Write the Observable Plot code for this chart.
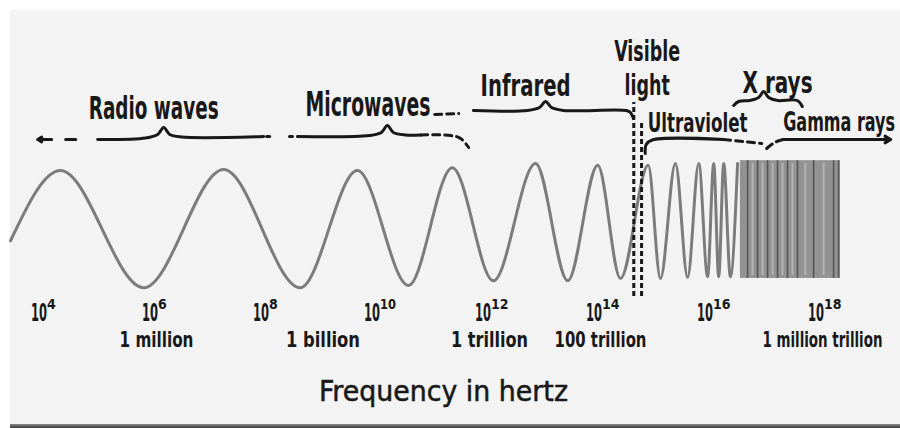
<!DOCTYPE html>
<html><head><meta charset="utf-8">
<script src="https://cdn.jsdelivr.net/npm/d3@7"></script>
<script src="https://cdn.jsdelivr.net/npm/@observablehq/plot@0.6"></script>
<style>
html,body{margin:0;padding:0;background:#fff;}
#wrap{position:relative;width:900px;height:428px;overflow:hidden;}
#paper{position:absolute;left:10px;top:10px;right:0;bottom:4px;background:#f3f3f3;}
#edge{position:absolute;left:10px;right:0;bottom:0;height:4px;background:linear-gradient(#8a8a8a,#3a3a3a);}
#wrap svg{position:absolute;left:0;top:0;}
</style></head>
<body><div id="wrap"><div id="paper"></div><div id="edge"></div></div>
<script>
// ---------------- data (frequency as log10 of hertz) ----------------
// peaks and troughs of the drawn wave
const waveFreq = [3.37, 4.27, 5.77, 7.21, 8.59, 9.62, 10.54, 11.33, 12.07, 12.83, 13.41, 13.95, 14.36,
                  14.86, 15.08, 15.35, 15.57, 15.77, 15.93, 16.04, 16.13, 16.22, 16.34, 16.47];
const waveAmp  = [-0.28, 0.93, -1.09, 0.95, -1.09, 0.93, -1.05, 0.98, -0.97, 1.05, -0.97, 1.02, -0.93,
                  1.02, -0.93, 1.05, -0.91, 1.05, -0.90, 1.05, -0.90, 1.05, -0.90, 1.05];
// region where the wave is too dense to draw separately
const gammaSpan = [16.52, 18.32];
const gammaAmp = [-0.93, 1.10];
const gammaDark = [16.65, 16.83, 17.01, 17.19, 17.37, 17.55, 17.84, 18.20, 18.29];
const gammaLight = [16.74, 16.92, 17.10, 17.28, 17.46, 17.69, 18.02];

const tickExp = [4, 6, 8, 10, 12, 14, 16, 18];
const tickBase = "10";
const tickPowers = ["4", "6", "8", "10", "12", "14", "16", "18"];
const namedExp = [6, 9, 12, 14, 18];
const namedLabels = ["1 million", "1 billion", "1 trillion", "100 trillion", "1 million trillion"];

const bandNames   = ["Radio waves", "Microwaves", "Infrared", "Visible\nlight", "Ultraviolet", "X rays", "Gamma rays"];
const bandFrom    = [4.94, 8.54, 11.71, 14.60, 14.86, 16.40, 17.30];
const bandTo      = [7.93, 10.76, 14.54, 14.74, 16.22, 17.60, 19.23];
const bandTip     = [6.13, 10.16, 13.01, null, null, 16.94, null];
const bandLabelAt = [5.95, 9.81, 12.65, 14.84, 15.75, 17.19, 18.30];
const axisTitle = "Frequency in hertz";

// ---------------- layout helpers ----------------
const KX = 55.5;                    // pixels per decade
const px = d => d / KX;             // pixel distance -> decades
const ay = p => (224 - p) / 58;     // pixel row -> amplitude units
const INK = "#181818";

// label rows: baseline of last line (px), font size, drawn width of first line, line height
const labelLayout = {
  "Radio waves": [118, 32, 130, 1],
  "Microwaves": [115, 34, 125, 1],
  "Infrared": [95, 31, 90, 1],
  "Visible\nlight": [94, 28, 66, 1.18],
  "Ultraviolet": [131, 27, 100, 1],
  "X rays": [92, 31, 70, 1],
  "Gamma rays": [130, 27, 112, 1]
};

const wave = waveFreq.map((f, i) => ({f, a: waveAmp[i]}));

const labels = bandNames.map((name, i) => {
  const [base, size, , lh] = labelLayout[name];
  return {text: name, x: bandLabelAt[i], y: ay(base), size, lh};
});

// brace strokes
const segs = [];
function addSeg(id, pts, dashed = false) {
  pts.forEach(([x, p]) => segs.push({seg: id, x, y: ay(p), dashed}));
}
{
  // Radio waves
  let f = bandFrom[0], t = bandTo[0], k = bandTip[0];
  addSeg("radio", [[f, 139], [k - px(18), 137.5], [k - px(6), 134], [k, 127], [k + px(6), 134], [k + px(18), 136.5], [t, 136]]);
  addSeg("radio-dash", [[f - px(32), 139], [f - px(22), 139]]);
  addSeg("radio-dot", [[t + px(3), 136], [t + px(6), 136]]);
  // Microwaves
  f = bandFrom[1]; t = bandTo[1]; k = bandTip[1];
  addSeg("micro", [[f, 136], [k - px(18), 135], [k - px(6), 132], [k, 125], [k + px(6), 132], [k + px(18), 134.5], [t, 134.5]]);
  addSeg("micro-dot", [[f - px(8), 136], [f - px(5), 136]]);
  addSeg("micro-tail", [[t, 134.5], [t + px(30), 135], [t + px(40), 138], [t + px(48), 147]], true);
  addSeg("micro-under", [[t + px(14), 114], [t + px(38), 113]], true);
  // Infrared
  f = bandFrom[2]; t = bandTo[2]; k = bandTip[2];
  addSeg("ir", [[f, 110], [k - px(18), 110], [k - px(6), 107], [k, 101], [k + px(6), 107], [k + px(18), 110], [t - px(4), 110], [t, 112], [t + px(3), 118]]);
  // Ultraviolet
  f = bandFrom[4]; t = bandTo[4];
  addSeg("uv", [[f - px(3), 153], [f - px(2), 144], [f + px(4), 139.5], [t, 139]]);
  addSeg("uv-tail", [[t, 139], [t + px(20), 141], [t + px(38), 143]], true);
  // X rays
  f = bandFrom[5]; t = bandTo[5]; k = bandTip[5];
  addSeg("xr", [[f, 105], [f + px(5), 101], [k - px(14), 100], [k - px(5), 97], [k, 91], [k + px(5), 97], [k + px(14), 100], [t - px(3), 100], [t + px(2), 106]]);
  // Gamma rays
  f = bandFrom[6]; t = bandTo[6];
  addSeg("gamma-lead", [[f - px(17), 148], [f - px(9), 142], [f, 139]], true);
  addSeg("gamma", [[f, 139], [t - px(18), 139]]);
}
const arrows = [
  {x1: bandFrom[0] - px(46), x2: bandFrom[0] - px(60), y: ay(139)},
  {x1: bandTo[6] - px(20), x2: bandTo[6], y: ay(139)}
];

// drawn widths of the condensed hand lettering (keyed by text content)
const widths = new Map(Object.entries(labelLayout).map(([k, v]) => [k.replace("\n", ""), v[2]]));
widths.set(tickBase, 16);
[74, 74, 77, 92, 120].forEach((w, i) => widths.set(namedLabels[i], w));
widths.set(axisTitle, 249);

const textOpts = {fontWeight: "bold", lineAnchor: "bottom", fill: INK};
const svg = Plot.plot({
  width: 900, height: 428,
  marginTop: 0, marginRight: 0, marginBottom: 0, marginLeft: 0,
  x: {domain: [4, 18], range: [45, 822], axis: null},
  y: {domain: [-1, 1], range: [282, 166], axis: null},
  style: {background: "transparent", fontFamily: "'DejaVu Sans Condensed','DejaVu Sans',sans-serif", overflow: "visible"},
  marks: [
    // dense high-frequency part of the wave
    Plot.rect([0], {x1: () => gammaSpan[0], x2: () => gammaSpan[1], y1: () => gammaAmp[0], y2: () => gammaAmp[1], fill: "#929292"}),
    Plot.ruleX(gammaLight, {x: d => d, y1: gammaAmp[0] + 0.05, y2: gammaAmp[1] - 0.05, stroke: "#b4b4b4", strokeWidth: 2}),
    Plot.ruleX(gammaDark, {x: d => d, y1: gammaAmp[0], y2: gammaAmp[1], stroke: "#555", strokeWidth: 1.6}),
    // the wave
    Plot.line(wave, {x: "f", y: "a", curve: "monotone-x", stroke: "#7c7c7c", strokeWidth: 3}),
    // visible light boundaries
    Plot.ruleX([bandFrom[3]], {x: d => d, y1: ay(296), y2: ay(102), stroke: INK, strokeWidth: 3, strokeDasharray: "5,3"}),
    Plot.ruleX([bandTo[3]], {x: d => d, y1: ay(296), y2: ay(120), stroke: INK, strokeWidth: 3, strokeDasharray: "5,3"}),
    // braces
    Plot.line(segs.filter(d => !d.dashed), {x: "x", y: "y", z: "seg", curve: "catmull-rom", stroke: INK, strokeWidth: 3, strokeLinecap: "round"}),
    Plot.line(segs.filter(d => d.dashed), {x: "x", y: "y", z: "seg", curve: "catmull-rom", stroke: INK, strokeWidth: 3, strokeDasharray: "7,5"}),
    Plot.arrow(arrows, {x1: "x1", x2: "x2", y1: "y", y2: "y", stroke: INK, strokeWidth: 3, headLength: 9}),
    // band labels (single-line ones, then the two-line "Visible light")
    Plot.text(labels.filter(d => d.lh === 1), {x: "x", y: "y", text: "text", fontSize: "size", ...textOpts}),
    Plot.text(labels.filter(d => d.lh !== 1), {x: "x", y: "y", text: "text", fontSize: "size", lineHeight: labelLayout["Visible\nlight"][3], ...textOpts}),
    // tick labels: 10 with a raised power
    Plot.text(tickExp, {x: d => d, y: ay(320), text: () => tickBase, textAnchor: "end", dx: 1.5, fontSize: 25, ...textOpts}),
    Plot.text(tickExp, {x: d => d, y: ay(308), text: (d, i) => tickPowers[i], textAnchor: "start", dx: 1.5, fontSize: 14, ...textOpts}),
    Plot.text(namedExp, {x: d => d, y: ay(346), text: (d, i) => namedLabels[i], fontSize: 21, ...textOpts}),
    // axis title
    Plot.text([axisTitle], {frameAnchor: "top", dx: -7, dy: 400, lineAnchor: "bottom", fontSize: 29, fill: INK, stroke: INK, strokeWidth: 0.5})
  ]
});
document.getElementById("wrap").appendChild(svg);
// squeeze each text horizontally to the width of the hand lettering
svg.querySelectorAll("text").forEach(t => {
  const w = widths.get(t.textContent);
  if (!w) return;
  const first = t.querySelector("tspan") || t;
  const n = first.getComputedTextLength();
  if (!(n > 0)) return;
  const xAttr = parseFloat(t.getAttribute("x")) || 0;
  t.removeAttribute("x");
  const tr = t.getAttribute("transform") || "";
  t.setAttribute("transform", `${tr} translate(${xAttr},0) scale(${w / n},1)`);
});
</script>
</body></html>
